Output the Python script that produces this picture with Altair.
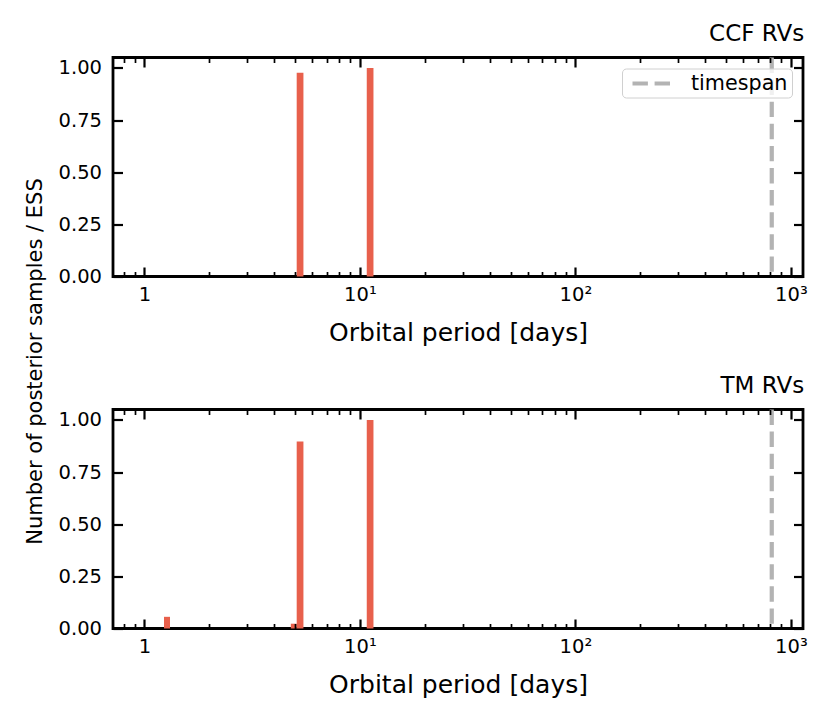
import altair as alt
import pandas as pd

# ---------------- data ----------------
ccf_lo = [5.09, 10.76]
ccf_hi = [5.47, 11.56]
ccf_val = [0.977, 1.0]

tm_lo = [1.233, 4.78, 5.09, 10.76]
tm_hi = [1.315, 5.09, 5.47, 11.56]
tm_val = [0.056, 0.023, 0.896, 1.0]

timespan = [815]
legend_label = ["timespan"]

x_major = [1, 10, 100, 1000]
x_major_labels = ["1", "10¹", "10²", "10³"]
x_minor = [0.8, 0.9, 2, 3, 4, 5, 6, 7, 8, 9,
           20, 30, 40, 50, 60, 70, 80, 90,
           200, 300, 400, 500, 600, 700, 800, 900]
y_ticks = [0, 0.25, 0.5, 0.75, 1.0]

panel_titles = ["CCF RVs", "TM RVs"]

# ---------------- styling ----------------
FONT = "DejaVu Sans"
BAR = "#e8604c"
GRAY = "#b3b3b3"
MAJ = 9.5
MIN = 5.0
W, H = 690, 219
XDOM = [0.715, 1138]

label_expr = " : ".join(
    f"datum.value == {v} ? '{t}'" for v, t in zip(x_major, x_major_labels)
) + " : ''"

xs = alt.Scale(type="log", domain=XDOM, nice=False, zero=False)
ys = alt.Scale(domain=[0, 1.05], nice=False, zero=False)


def panel(lo, hi, val, title, with_legend, ytitle):
    df = pd.DataFrame({"lo": lo, "hi": hi, "val": val})
    ts = pd.DataFrame({"t": timespan, "label": legend_label})

    left_axis = dict(orient="left", values=y_ticks, format=".2f",
                     offset=-MAJ, tickSize=MAJ, labelPadding=11.5,
                     domain=False, zindex=1)
    if ytitle:
        left_axis.update(title=ytitle, titleFontSize=21, titleX=-87.5,
                         titleY=303.5, titleAlign="center",
                         titleBaseline="middle", titleAngle=-90)
    else:
        left_axis.update(title=None)

    bars = alt.Chart(df).mark_rect(color=BAR).encode(
        x=alt.X("lo:Q", scale=xs, axis=alt.Axis(
            orient="bottom", values=x_major, labelExpr=label_expr,
            offset=-MAJ, tickSize=MAJ, labelPadding=9, domain=False,
            title="Orbital period [days]", titlePadding=16, zindex=1)),
        x2="hi:Q",
        y=alt.Y("val:Q", scale=ys, axis=alt.Axis(**left_axis)),
        y2=alt.datum(0),
    )

    rule_enc = dict(x=alt.X("t:Q", scale=xs, axis=None))
    if with_legend:
        rule_enc["stroke"] = alt.Stroke(
            "label:N",
            scale=alt.Scale(domain=legend_label, range=[GRAY]),
            legend=alt.Legend(
                title=None, orient="top-right", offset=11,
                fillColor="rgba(255,255,255,0.8)", strokeColor="#d0d0d0",
                cornerRadius=4, padding=4,
                symbolType="M-1,0H4", symbolSize=289,
                symbolDash=[15.4, 6.7], symbolStrokeWidth=4.2,
                symbolFillColor="transparent", symbolOffset=4,
                labelOffset=39, labelFont=FONT, labelFontSize=20.7,
                labelColor="black"))
    rule = alt.Chart(ts).mark_rule(
        color=GRAY, strokeDash=[15.4, 6.7], strokeWidth=4.2
    ).encode(**rule_enc)

    top_right = alt.Chart(df).mark_point(opacity=0).encode(
        x=alt.X("lo:Q", scale=xs, axis=alt.Axis(
            orient="top", values=x_major, labels=False, offset=-MAJ,
            tickSize=MAJ, domain=False, title=None, zindex=1)),
        y=alt.Y("val:Q", scale=ys, axis=alt.Axis(
            orient="right", values=y_ticks, labels=False, offset=-MAJ,
            tickSize=MAJ, domain=False, title=None, zindex=1)),
    )
    minor_bottom = alt.Chart(df).mark_point(opacity=0).encode(
        x=alt.X("lo:Q", scale=xs, axis=alt.Axis(
            orient="bottom", values=x_minor, labels=False, offset=-MIN,
            tickSize=MIN, tickWidth=1.7, domain=False, title=None, zindex=1)),
        y=alt.Y("val:Q", scale=ys, axis=None),
    )
    minor_top = alt.Chart(df).mark_point(opacity=0).encode(
        x=alt.X("lo:Q", scale=xs, axis=alt.Axis(
            orient="top", values=x_minor, labels=False, offset=-MIN,
            tickSize=MIN, tickWidth=1.7, domain=False, title=None, zindex=1)),
        y=alt.Y("val:Q", scale=ys, axis=None),
    )

    return alt.layer(bars, rule, top_right, minor_bottom, minor_top).resolve_axis(
        x="independent", y="independent"
    ).properties(
        width=W, height=H,
        title=alt.TitleParams(title, anchor="end", font=FONT, fontSize=23,
                              fontWeight="normal", color="black",
                              baseline="alphabetic", offset=-8.5, dx=-3),
    )


top = panel(ccf_lo, ccf_hi, ccf_val, panel_titles[0], True,
            "Number of posterior samples / ESS")
bottom = panel(tm_lo, tm_hi, tm_val, panel_titles[1], False, None)

chart = alt.vconcat(top, bottom, spacing=133, bounds="flush").resolve_legend(
    stroke="independent"
).properties(
    padding={"left": 14, "top": 13.5, "right": 5, "bottom": 5},
    background="white",
).configure_view(
    stroke="black", strokeWidth=2.8
).configure_axis(
    grid=False, labelFont=FONT, labelFontSize=19.5, labelColor="black",
    tickColor="black", tickWidth=2.2, titleFont=FONT, titleFontSize=25,
    titleFontWeight="normal", titleColor="black"
)

chart.save("out.html", embed_options={"renderer": "svg", "actions": False})
